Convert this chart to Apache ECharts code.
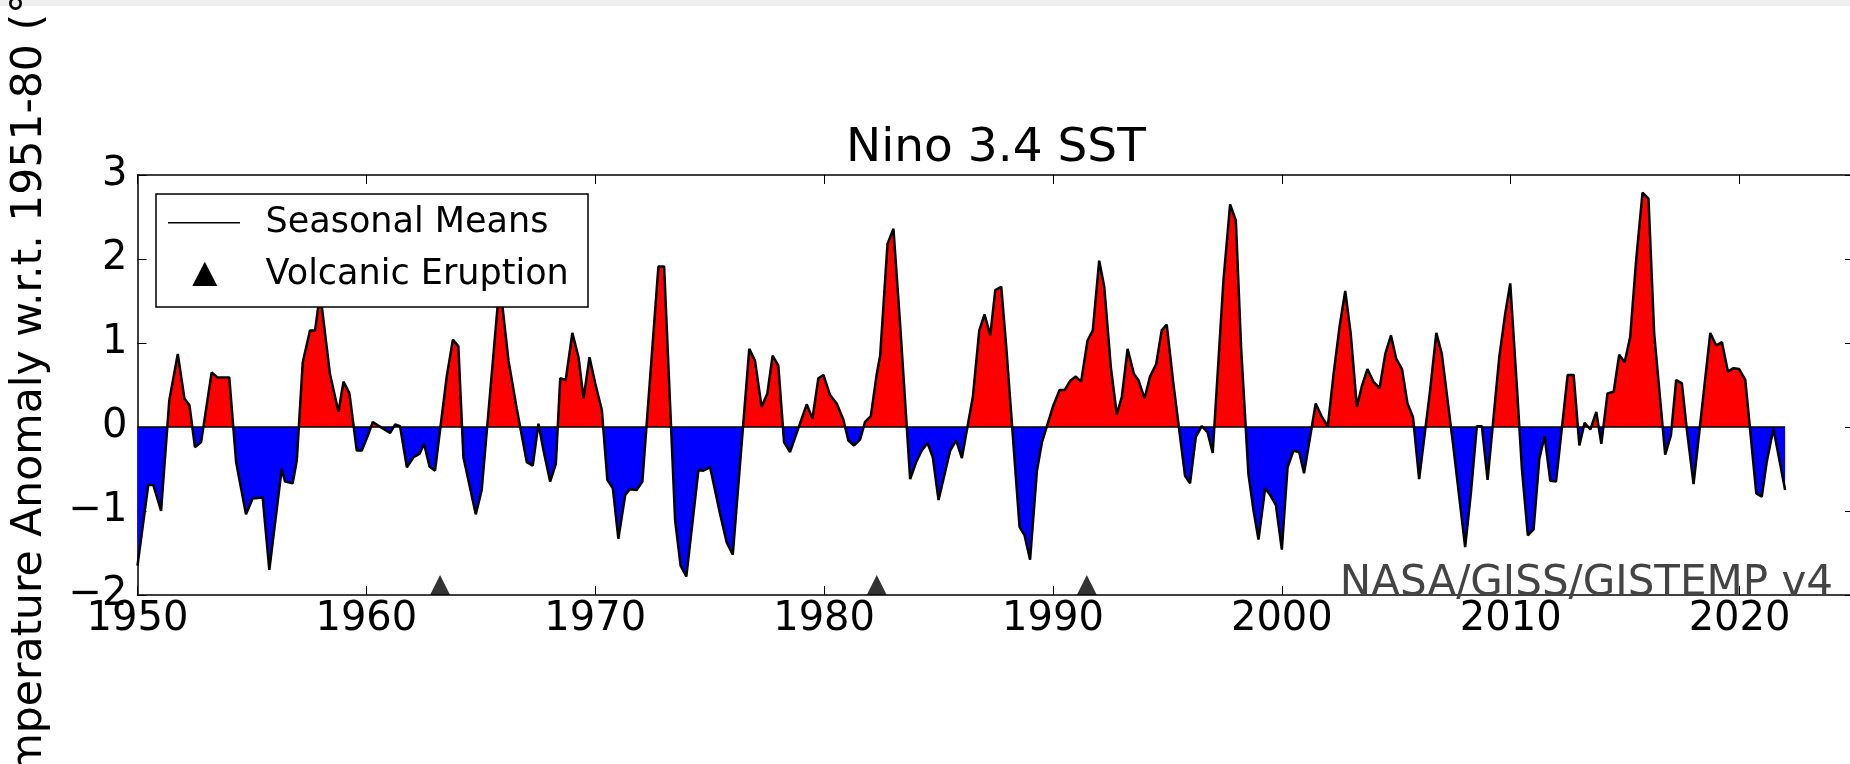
<!DOCTYPE html>
<html>
<head>
<meta charset="utf-8">
<title>Nino 3.4 SST</title>
<script src="https://cdn.jsdelivr.net/npm/echarts@6/dist/echarts.min.js"></script>
<style>
html, body { margin: 0; padding: 0; background: #fff; }
#chart { width: 1850px; height: 764px; }
</style>
</head>
<body>
<div id="chart"></div>
<script>
// seasonal means (year, anomaly in °C)
const seasonYears = [
  1950.00, 1950.47, 1950.69, 1951.03, 1951.39, 1951.76, 1952.05, 1952.27, 1952.51, 1952.78,
  1953.24, 1953.49, 1954.01, 1954.31, 1954.74, 1955.03, 1955.47, 1955.76, 1956.30, 1956.45,
  1956.78, 1956.96, 1957.22, 1957.54, 1957.76, 1957.98, 1958.41, 1958.78, 1959.00, 1959.26,
  1959.58, 1959.80, 1960.04, 1960.28, 1960.50, 1961.04, 1961.26, 1961.47, 1961.77, 1962.06,
  1962.32, 1962.52, 1962.76, 1963.00, 1963.51, 1963.78, 1964.02, 1964.24, 1964.78, 1965.04,
  1965.63, 1965.77, 1965.90, 1966.21, 1966.57, 1967.01, 1967.27, 1967.52, 1967.74, 1968.03,
  1968.28, 1968.47, 1968.71, 1969.00, 1969.27, 1969.49, 1969.75, 1970.00, 1970.29, 1970.53,
  1970.77, 1971.01, 1971.31, 1971.52, 1971.81, 1972.06, 1972.76, 1973.01, 1973.49, 1973.73,
  1973.98, 1974.51, 1974.72, 1975.02, 1975.45, 1975.74, 1976.01, 1976.73, 1976.98, 1977.27,
  1977.52, 1977.75, 1978.00, 1978.25, 1978.51, 1979.24, 1979.49, 1979.75, 1979.97, 1980.26,
  1980.55, 1980.84, 1981.06, 1981.31, 1981.57, 1981.79, 1982.04, 1982.30, 1982.45, 1982.77,
  1983.03, 1983.32, 1983.76, 1984.02, 1984.27, 1984.52, 1984.75, 1985.00, 1985.51, 1985.77,
  1986.02, 1986.50, 1986.78, 1987.01, 1987.26, 1987.48, 1987.74, 1987.96, 1988.54, 1988.76,
  1989.00, 1989.30, 1989.52, 1990.02, 1990.29, 1990.51, 1990.75, 1991.00, 1991.23, 1991.51,
  1991.74, 1992.02, 1992.24, 1992.53, 1992.79, 1993.01, 1993.26, 1993.54, 1993.73, 1994.00,
  1994.24, 1994.51, 1994.75, 1994.97, 1995.26, 1995.77, 1995.99, 1996.24, 1996.50, 1996.75,
  1996.98, 1997.45, 1997.74, 1997.99, 1998.22, 1998.54, 1998.76, 1998.98, 1999.27, 1999.49,
  1999.74, 2000.00, 2000.25, 2000.51, 2000.76, 2000.97, 2001.48, 2001.75, 2002.01, 2002.26,
  2002.52, 2002.77, 2003.01, 2003.28, 2003.49, 2003.74, 2004.00, 2004.27, 2004.52, 2004.77,
  2005.00, 2005.25, 2005.49, 2005.73, 2006.00, 2006.48, 2006.75, 2006.99, 2007.48, 2007.75,
  2008.01, 2008.26, 2008.52, 2008.74, 2008.99, 2009.50, 2009.76, 2009.98, 2010.27, 2010.49,
  2010.75, 2011.00, 2011.25, 2011.48, 2011.73, 2011.98, 2012.49, 2012.75, 2013.00, 2013.23,
  2013.48, 2013.74, 2013.96, 2014.23, 2014.50, 2014.74, 2014.98, 2015.22, 2015.48, 2015.76,
  2016.02, 2016.27, 2016.75, 2017.00, 2017.23, 2017.48, 2017.70, 2017.99, 2018.72, 2018.98,
  2019.23, 2019.49, 2019.74, 2019.98, 2020.25, 2020.73, 2020.97, 2021.19, 2021.48, 2021.99
]
const anomalies = [
  -1.65, -0.69, -0.69, -1.00, 0.32, 0.87, 0.34, 0.26, -0.24, -0.18,
  0.65, 0.59, 0.59, -0.42, -1.04, -0.85, -0.84, -1.70, -0.50, -0.65,
  -0.67, -0.40, 0.77, 1.15, 1.15, 1.60, 0.63, 0.18, 0.54, 0.40,
  -0.28, -0.28, -0.12, 0.06, 0.02, -0.07, 0.03, 0.01, -0.48, -0.36,
  -0.32, -0.20, -0.47, -0.52, 0.60, 1.04, 0.96, -0.36, -1.04, -0.75,
  1.11, 1.55, 1.55, 0.79, 0.22, -0.42, -0.46, 0.04, -0.28, -0.65,
  -0.44, 0.58, 0.56, 1.12, 0.83, 0.34, 0.83, 0.52, 0.20, -0.63,
  -0.73, -1.33, -0.81, -0.74, -0.75, -0.65, 1.91, 1.91, -1.11, -1.65,
  -1.78, -0.51, -0.52, -0.48, -1.03, -1.37, -1.52, 0.93, 0.79, 0.24,
  0.40, 0.85, 0.73, -0.18, -0.30, 0.27, 0.10, 0.58, 0.62, 0.38,
  0.28, 0.09, -0.16, -0.22, -0.15, 0.06, 0.13, 0.63, 0.85, 2.18,
  2.36, 1.23, -0.62, -0.42, -0.28, -0.19, -0.36, -0.87, -0.28, -0.16,
  -0.37, 0.36, 1.15, 1.34, 1.09, 1.63, 1.67, 0.95, -1.19, -1.29,
  -1.58, -0.52, -0.18, 0.26, 0.44, 0.44, 0.55, 0.60, 0.54, 1.03,
  1.15, 1.98, 1.67, 0.71, 0.15, 0.36, 0.93, 0.63, 0.56, 0.34,
  0.60, 0.75, 1.15, 1.22, 0.52, -0.58, -0.67, -0.12, 0.01, -0.06,
  -0.31, 1.75, 2.65, 2.46, 0.95, -0.56, -0.99, -1.34, -0.73, -0.81,
  -0.93, -1.46, -0.48, -0.28, -0.30, -0.55, 0.28, 0.12, 0.01, 0.63,
  1.19, 1.62, 1.11, 0.24, 0.48, 0.69, 0.54, 0.46, 0.87, 1.09,
  0.81, 0.69, 0.28, 0.12, -0.62, 0.44, 1.12, 0.87, -0.20, -0.83,
  -1.43, -0.79, 0.01, 0.01, -0.63, 0.83, 1.35, 1.71, 0.48, -0.50,
  -1.29, -1.22, -0.38, -0.11, -0.64, -0.65, 0.62, 0.62, -0.22, 0.05,
  -0.03, 0.18, -0.20, 0.40, 0.42, 0.86, 0.77, 1.07, 1.98, 2.79,
  2.72, 1.11, -0.33, -0.10, 0.56, 0.52, -0.04, -0.68, 1.12, 0.97,
  1.01, 0.66, 0.70, 0.69, 0.56, -0.79, -0.83, -0.41, -0.02, -0.75
]
// Agung, El Chichon, Pinatubo
const eruptionYears = [1963.22, 1982.30, 1991.48]

const xTicks = [1950, 1960, 1970, 1980, 1990, 2000, 2010, 2020]
const yTicks = [-2, -1, 0, 1, 2, 3]
const xMax = 2025

const font = 'DejaVu Sans'
const seasonal = seasonYears.map((y, i) => [y, anomalies[i]])
const zeroLine = [[seasonYears[0], 0], [seasonYears[seasonYears.length - 1], 0]]
const eruptions = eruptionYears.map(y => [y, yTicks[0]])

// the filled area spans from the highest to the lowest value (0 lies inside),
// so zero sits at this fraction of its bounding box, from the top
const vMax = Math.max(...anomalies)
const vMin = Math.min(...anomalies)
const zeroAt = vMax / (vMax - vMin)
const warmCold = new echarts.graphic.LinearGradient(0, 0, 0, 1, [
  { offset: 0, color: '#ff0000' },
  { offset: zeroAt, color: '#ff0000' },
  { offset: zeroAt, color: '#0000ff' },
  { offset: 1, color: '#0000ff' },
])

const chart = echarts.init(document.getElementById('chart'))

const frame = {
  type: 'value',
  axisLine: { show: true, onZero: false, lineStyle: { color: '#000', width: 1.5 } },
  axisTick: { show: true, inside: true, length: 9, lineStyle: { color: '#000', width: 1 } },
  splitLine: { show: false },
}
const xFrame = { ...frame, min: xTicks[0], max: xMax, interval: 10 }
const yFrame = { ...frame, min: yTicks[0], max: yTicks[yTicks.length - 1], interval: 1 }

const option = {
  backgroundColor: '#fff',
  animation: false,
  grid: {
    left: 137.5, top: 175, right: -4, bottom: 169,
    containLabel: false, outerBoundsMode: 'none',
  },
  xAxis: [
    {
      ...xFrame, position: 'bottom',
      axisLabel: {
        margin: 5, fontSize: 40, fontFamily: font, color: '#000',
        formatter: v => xTicks.includes(v) ? String(v) : '',
      },
    },
    { ...xFrame, position: 'top', axisLabel: { show: false } },
  ],
  yAxis: [
    {
      ...yFrame, position: 'left',
      axisLabel: {
        margin: 10, fontSize: 40, fontFamily: font, color: '#000',
        formatter: v => v < 0 ? '\u2212' + Math.abs(v) : String(v),
      },
    },
    { ...yFrame, position: 'right', axisLabel: { show: false } },
  ],
  series: [
    {
      type: 'line', data: seasonal, symbol: 'none',
      lineStyle: { width: 0 }, areaStyle: { opacity: 1, color: warmCold }, z: 2,
    },
    {
      type: 'line', data: zeroLine, symbol: 'none',
      lineStyle: { color: '#000', width: 1.5 }, z: 3,
    },
    {
      name: 'Seasonal Means', type: 'line', data: seasonal, symbol: 'none',
      lineStyle: { color: '#000', width: 2.5 }, z: 4,
    },
    {
      name: 'Volcanic Eruption', type: 'scatter', data: eruptions, clip: false,
      symbol: 'triangle', symbolSize: [20, 20], symbolOffset: [0, -10],
      itemStyle: { color: '#000' }, z: 5,
    },
  ],
  graphic: [
    { type: 'rect', shape: { x: 0, y: 0, width: 1850, height: 6 }, style: { fill: '#efefef' }, z: 100 },
    {
      type: 'text', x: 996, y: 149, z: 100,
      style: { text: 'Nino 3.4 SST', font: '47px "DejaVu Sans"', fill: '#000', align: 'center', verticalAlign: 'middle' },
    },
    {
      type: 'text', x: 30, y: 383, rotation: Math.PI / 2, z: 100,
      style: { text: 'Temperature Anomaly w.r.t. 1951-80 (°C)', font: '42.5px "DejaVu Sans"', fill: '#000', align: 'center', verticalAlign: 'middle' },
    },
    {
      type: 'text', x: 1833, y: 584, z: 100,
      style: { text: 'NASA/GISS/GISTEMP v4', font: '42px "DejaVu Sans"', fill: '#444', align: 'right', verticalAlign: 'middle' },
    },
    // legend box, drawn over the curve like the original
    { type: 'rect', z: 100, shape: { x: 156, y: 194, width: 432, height: 113 }, style: { fill: '#fff', stroke: '#000', lineWidth: 1.5 } },
    { type: 'line', z: 101, shape: { x1: 168, y1: 222.7, x2: 240, y2: 222.7 }, style: { stroke: '#000', lineWidth: 1.5 } },
    { type: 'polygon', z: 101, shape: { points: [[204.8, 261.7], [192.3, 286], [217.3, 286]] }, style: { fill: '#000' } },
    { type: 'text', z: 101, x: 265.5, y: 222.5, style: { text: 'Seasonal Means', font: '35px "DejaVu Sans"', fill: '#000', verticalAlign: 'middle' } },
    { type: 'text', z: 101, x: 265.5, y: 274.5, style: { text: 'Volcanic Eruption', font: '35px "DejaVu Sans"', fill: '#000', verticalAlign: 'middle' } },
  ],
}

option && chart.setOption(option)
</script>
</body>
</html>
